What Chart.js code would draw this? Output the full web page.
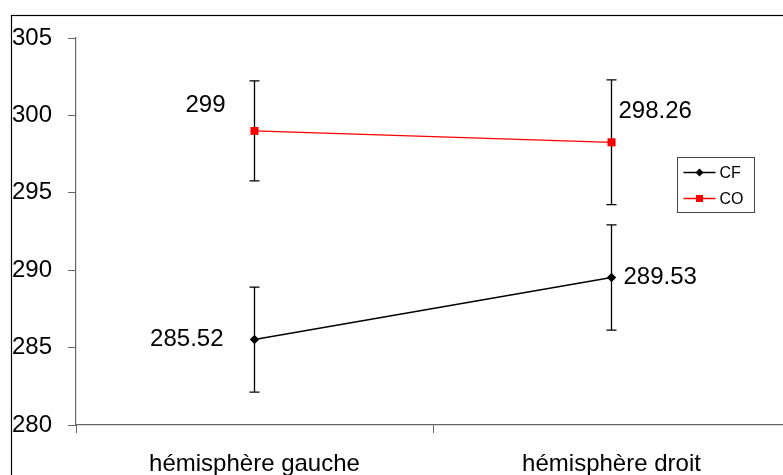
<!DOCTYPE html>
<html>
<head>
<meta charset="utf-8">
<script src="https://cdn.jsdelivr.net/npm/chart.js@4.4.1/dist/chart.umd.min.js"></script>
<style>
  html, body { margin: 0; padding: 0; overflow: hidden; background: #fff; }
  #wrap { position: absolute; left: 0; top: 0; }
</style>
</head>
<body>
<div id="wrap"><canvas id="chart" width="800" height="495"></canvas></div>
<script>
// categories and values
const categories = ['hémisphère gauche', 'hémisphère droit'];
const cfValues = [285.52, 289.53];
const coValues = [299, 298.26];
const cfErrors = [3.39, 3.4];
const coErrors = [3.23, 4.03];
const yTicks = [280, 285, 290, 295, 300, 305];

const FONT = '"Liberation Sans", Arial, sans-serif';

// where each value label sits relative to its point
const labelPlace = {
  0: [{ dx: -31, dy: 0, align: 'right' }, { dx: 12, dy: 0, align: 'left' }],
  1: [{ dx: -29, dy: -26, align: 'right' }, { dx: 7, dy: -31, align: 'left' }]
};

const errorBars = {
  id: 'errorBars',
  afterDatasetsDraw(chart) {
    const ctx = chart.ctx;
    const x = chart.scales.x, y = chart.scales.y;
    chart.data.datasets.forEach((ds, i) => {
      ds.data.forEach((v, j) => {
        const px = x.getPixelForValue(j);
        const top = y.getPixelForValue(v + ds.errors[j]);
        const bot = y.getPixelForValue(v - ds.errors[j]);
        ctx.save();
        ctx.strokeStyle = '#000';
        ctx.lineWidth = 1.3;
        ctx.beginPath();
        ctx.moveTo(px, top); ctx.lineTo(px, bot);
        ctx.moveTo(px - 5, top); ctx.lineTo(px + 5, top);
        ctx.moveTo(px - 5, bot); ctx.lineTo(px + 5, bot);
        ctx.stroke();
        ctx.restore();
      });
    });
    // redraw points on top of the bars
    chart.data.datasets.forEach((ds, i) => {
      chart.getDatasetMeta(i).data.forEach(p => p.draw(ctx, chart.chartArea));
    });
  }
};

const valueLabels = {
  id: 'valueLabels',
  afterDraw(chart) {
    const ctx = chart.ctx;
    ctx.save();
    ctx.font = '24px ' + FONT;
    ctx.fillStyle = '#000';
    ctx.textBaseline = 'middle';
    chart.data.datasets.forEach((ds, i) => {
      chart.getDatasetMeta(i).data.forEach((p, j) => {
        const pl = labelPlace[i][j];
        ctx.textAlign = pl.align;
        ctx.fillText(String(ds.data[j]), p.x + pl.dx, p.y + pl.dy);
      });
    });
    ctx.restore();
  }
};

const frameAndLegend = {
  id: 'frameAndLegend',
  beforeDraw(chart) {
    const ctx = chart.ctx;
    ctx.save();
    ctx.strokeStyle = '#000';
    ctx.lineWidth = 1.2;
    ctx.strokeRect(11.5, 15.5, 1000, 1000);
    ctx.restore();
  },
  afterDraw(chart) {
    const ctx = chart.ctx;
    const lx = 677.5, ly = 157.5, lw = 77, lh = 55;
    ctx.save();
    ctx.fillStyle = '#fff';
    ctx.fillRect(lx, ly, lw, lh);
    ctx.strokeStyle = '#444';
    ctx.lineWidth = 1;
    ctx.strokeRect(lx, ly, lw, lh);
    ctx.font = '16px ' + FONT;
    ctx.textBaseline = 'middle';
    ctx.textAlign = 'left';
    chart.data.datasets.forEach((ds, i) => {
      const yy = ly + 15 + i * 26;
      ctx.strokeStyle = ds.borderColor;
      ctx.lineWidth = 1.3;
      ctx.beginPath();
      ctx.moveTo(lx + 6, yy); ctx.lineTo(lx + 38, yy);
      ctx.stroke();
      ctx.fillStyle = ds.pointBackgroundColor;
      ctx.beginPath();
      if (ds.pointStyle === 'rect') {
        ctx.rect(lx + 22 - 3.5, yy - 3.5, 7, 7);
      } else {
        ctx.moveTo(lx + 22, yy - 4); ctx.lineTo(lx + 26, yy);
        ctx.lineTo(lx + 22, yy + 4); ctx.lineTo(lx + 18, yy);
        ctx.closePath();
      }
      ctx.fill();
      ctx.fillStyle = '#000';
      ctx.fillText(ds.label, lx + 42, yy + 1);
    });
    ctx.restore();
  }
};

new Chart(document.getElementById('chart'), {
  type: 'line',
  data: {
    labels: categories,
    datasets: [{
      label: 'CF',
      data: cfValues,
      errors: cfErrors,
      borderColor: '#000',
      borderWidth: 1.4,
      pointStyle: 'rectRot',
      pointRadius: 4.5,
      pointBackgroundColor: '#000',
      pointBorderColor: '#000',
      pointBorderWidth: 0
    }, {
      label: 'CO',
      data: coValues,
      errors: coErrors,
      borderColor: '#ff0000',
      borderWidth: 1.4,
      pointStyle: 'rect',
      pointRadius: 5.4,
      pointBackgroundColor: '#ff0000',
      pointBorderColor: '#ff0000',
      pointBorderWidth: 0
    }]
  },
  options: {
    responsive: false,
    animation: false,
    layout: { padding: { left: 12, top: 38, right: 10, bottom: 0 } },
    plugins: { legend: { display: false }, tooltip: { enabled: false } },
    scales: {
      x: {
        offset: true,
        grid: { offset: true, drawOnChartArea: false, tickLength: 8, color: '#666' },
        border: { color: '#666', width: 1.2 },
        ticks: { color: '#000', font: { family: FONT, size: 24 }, padding: 17, maxRotation: 0 },
        afterFit: (s) => { s.height = 70; }
      },
      y: {
        min: 280,
        max: 305,
        afterBuildTicks: (s) => { s.ticks = yTicks.map(v => ({ value: v })); },
        grid: { drawOnChartArea: false, tickLength: 8, color: '#666' },
        border: { color: '#666', width: 1.2 },
        ticks: { color: '#000', font: { family: FONT, size: 24 }, crossAlign: 'far' },
        afterFit: (s) => { s.width = 64; }
      }
    }
  },
  plugins: [frameAndLegend, errorBars, valueLabels]
});
</script>
</body>
</html>
